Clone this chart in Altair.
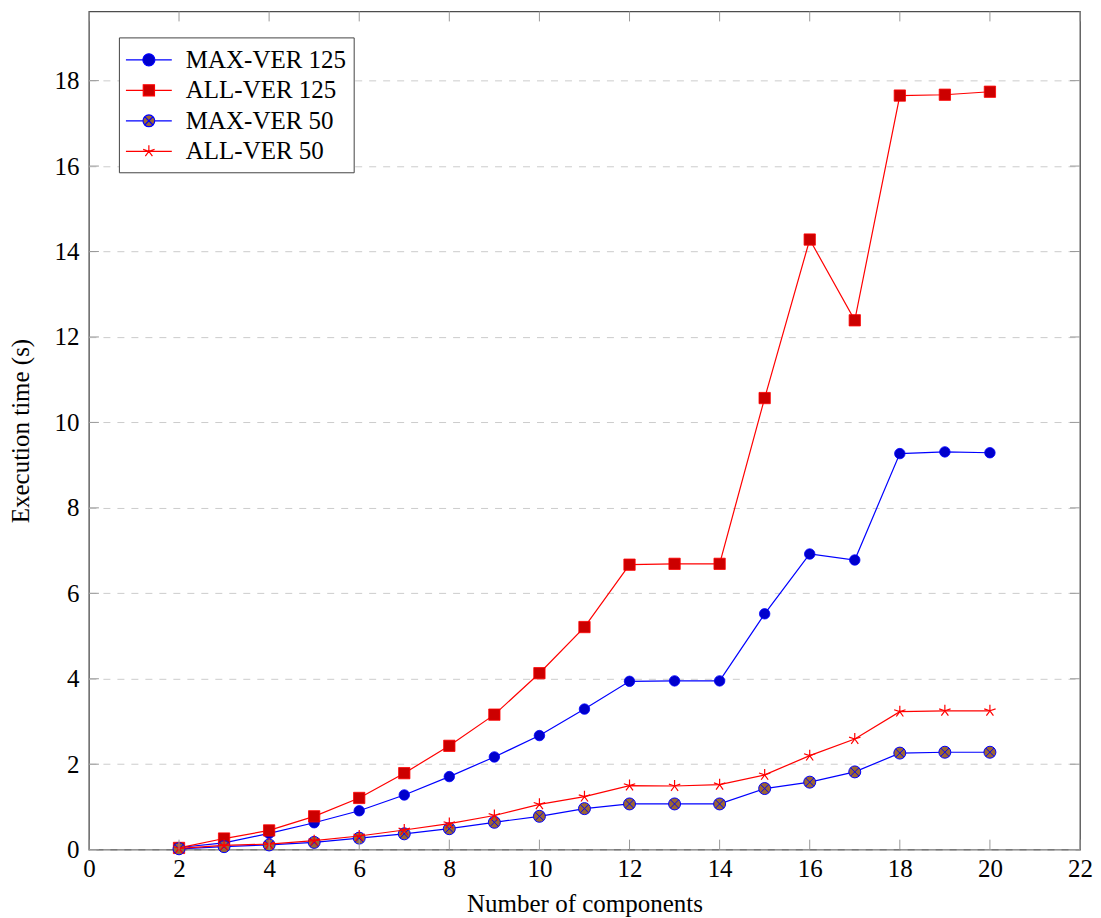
import altair as alt
import pandas as pd

# ---------------- data ----------------
X = list(range(2, 21))
MAX_VER_125 = [0.05, 0.16, 0.38, 0.63, 0.91, 1.28, 1.71, 2.17, 2.67, 3.29, 3.94, 3.95, 3.95,
               5.52, 6.92, 6.78, 9.27, 9.31, 9.29]
ALL_VER_125 = [0.04, 0.26, 0.45, 0.78, 1.21, 1.79, 2.43, 3.16, 4.13, 5.21, 6.67, 6.69, 6.69,
               10.57, 14.28, 12.39, 17.65, 17.67, 17.74]
MAX_VER_50 = [0.02, 0.07, 0.11, 0.17, 0.27, 0.37, 0.49, 0.64, 0.78, 0.96, 1.07, 1.07, 1.07,
              1.43, 1.58, 1.82, 2.26, 2.28, 2.28]
ALL_VER_50 = [0.03, 0.10, 0.13, 0.21, 0.32, 0.46, 0.61, 0.80, 1.06, 1.24, 1.50, 1.49, 1.52,
              1.75, 2.20, 2.59, 3.23, 3.25, 3.25]

SERIES = ["MAX-VER 125", "ALL-VER 125", "MAX-VER 50", "ALL-VER 50"]
VALUES = [MAX_VER_125, ALL_VER_125, MAX_VER_50, ALL_VER_50]
XTICKS = list(range(0, 23, 2))
YTICKS = list(range(0, 19, 2))

rows = [{"x": x, "y": v, "series": s}
        for s, vals in zip(SERIES, VALUES) for x, v in zip(X, vals)]
df = pd.DataFrame(rows)
xt = pd.DataFrame({"x": XTICKS})
yt = pd.DataFrame({"y": YTICKS})

# ---------------- style ----------------
W, H = 992, 839
FONT = "Liberation Serif"
FS = 25
TICK = "#9a9a9a"
xscale = alt.Scale(domain=[0, 22], nice=False, zero=False)
yscale = alt.Scale(domain=[0, 19.62], nice=False, zero=False)

LINE_COL = ["#0000ff", "#ff0000", "#0000ff", "#ff0000"]
FILLS = ["#0000cc", "#cc0000", "#9c6632", "transparent"]
STROKES = ["#0000ff", "#ff0000", "#0000ff", "#ff0000"]

CROSS_CIRCLE = ("M1,0A1,1,0,1,1,-1,0A1,1,0,1,1,1,0Z "
                "M-0.707,-0.707L0.707,0.707 M-0.707,0.707L0.707,-0.707")
STAR = ("M0,0L0,-1 M0,0L0.951,-0.309 M0,0L0.588,0.809 "
        "M0,0L-0.588,0.809 M0,0L-0.951,-0.309")

POINT_STYLE = [
    dict(shape="circle", filled=True, fill="#0000cc", stroke="#0000ff", strokeWidth=0.8, size=110),
    dict(shape="square", filled=True, fill="#cc0000", stroke="#ff0000", strokeWidth=0.8, size=128),
    dict(shape=CROSS_CIRCLE, filled=True, fill="#9c6632", stroke="#0000ff", strokeWidth=1.0, size=144),
    dict(shape=STAR, filled=False, stroke="#ff0000", strokeWidth=1.2, size=144),
]

L = 1.64
LEGEND_PATHS = [
    f"M-{L},0H-0.43M0.43,0H{L}M0.43,0A0.43,0.43,0,1,1,-0.43,0A0.43,0.43,0,1,1,0.43,0Z",
    f"M-{L},0H-0.4M0.4,0H{L}M-0.4,-0.4H0.4V0.4H-0.4Z",
    f"M-{L},0H-0.42M0.42,0H{L}M0.42,0A0.42,0.42,0,1,1,-0.42,0A0.42,0.42,0,1,1,0.42,0Z"
    "M-0.297,-0.297L0.297,0.297M-0.297,0.297L0.297,-0.297",
    f"M-{L},0H{L}M0,0L0,-0.43M0,0L0.409,-0.133M0,0L0.253,0.348M0,0L-0.253,0.348M0,0L-0.409,-0.133",
]

x_axis = alt.Axis(values=XTICKS, title="Number of components", grid=False, ticks=False,
                  domain=False, labelPadding=7, labelFlush=False, labelOverlap=False,
                  titleY=62, titleBaseline="alphabetic")
y_axis = alt.Axis(values=YTICKS, title="Execution time (s)", grid=True, gridDash=[7, 7],
                  gridColor="#cccccc", gridWidth=1, ticks=False, domain=False,
                  labelPadding=10, labelOverlap=False, titleX=-60, titleY=H / 2,
                  titleAngle=270, titleBaseline="alphabetic", titleAlign="center")


def X_(): return alt.X("x:Q", scale=xscale, axis=x_axis)
def Y_(): return alt.Y("y:Q", scale=yscale, axis=y_axis)


layers = []
for i, s in enumerate(SERIES):
    base = alt.Chart(df).transform_filter(alt.datum.series == s)
    layers.append(base.mark_line(color=LINE_COL[i], strokeWidth=1.2).encode(x=X_(), y=Y_()))
    layers.append(base.mark_point(opacity=1, **POINT_STYLE[i]).encode(x=X_(), y=Y_()))

# inward ticks (drawn from the tick arrays through the scales)
layers.append(alt.Chart(xt).mark_rule(color=TICK, strokeWidth=1).encode(
    x=X_(), y=alt.value(H), y2=alt.value(H - 10)))
layers.append(alt.Chart(xt).mark_rule(color=TICK, strokeWidth=1).encode(
    x=X_(), y=alt.value(0), y2=alt.value(10)))
layers.append(alt.Chart(yt).mark_rule(color=TICK, strokeWidth=1).encode(
    y=Y_(), x=alt.value(0), x2=alt.value(10)))
layers.append(alt.Chart(yt).mark_rule(color=TICK, strokeWidth=1).encode(
    y=Y_(), x=alt.value(W), x2=alt.value(W - 10)))

legend = alt.Legend(title=None, orient="none", legendX=30, legendY=26, padding=7.5,
                    rowPadding=2.5, symbolSize=784, symbolStrokeWidth=1.2, symbolOffset=7.5,
                    labelOffset=22, labelFontSize=FS, labelFont=FONT, labelColor="black",
                    labelLimit=400, strokeColor="#444444", fillColor="white", symbolOpacity=1)
layers.append(
    alt.Chart(df).transform_filter("false")
    .mark_point(filled=True, opacity=1, size=784, strokeWidth=1.2)
    .encode(
        x=X_(), y=Y_(),
        shape=alt.Shape("series:N", scale=alt.Scale(domain=SERIES, range=LEGEND_PATHS), legend=legend),
        fill=alt.Fill("series:N", scale=alt.Scale(domain=SERIES, range=FILLS), legend=legend),
        stroke=alt.Stroke("series:N", scale=alt.Scale(domain=SERIES, range=STROKES), legend=legend),
    )
)

chart = (
    alt.layer(*layers)
    .properties(width=W, height=H, background="white",
                padding={"left": 81, "top": 3, "right": 13, "bottom": 68},
                autosize=alt.AutoSizeParams(type="none"))
    .configure_view(stroke="#4d4d4d", strokeWidth=1.3)
    .configure_axis(labelFont=FONT, titleFont=FONT, labelFontSize=FS, titleFontSize=FS,
                    labelColor="black", titleColor="black", titleFontWeight="normal")
)

chart.save("out.html", embed_options={"renderer": "svg", "actions": False})
